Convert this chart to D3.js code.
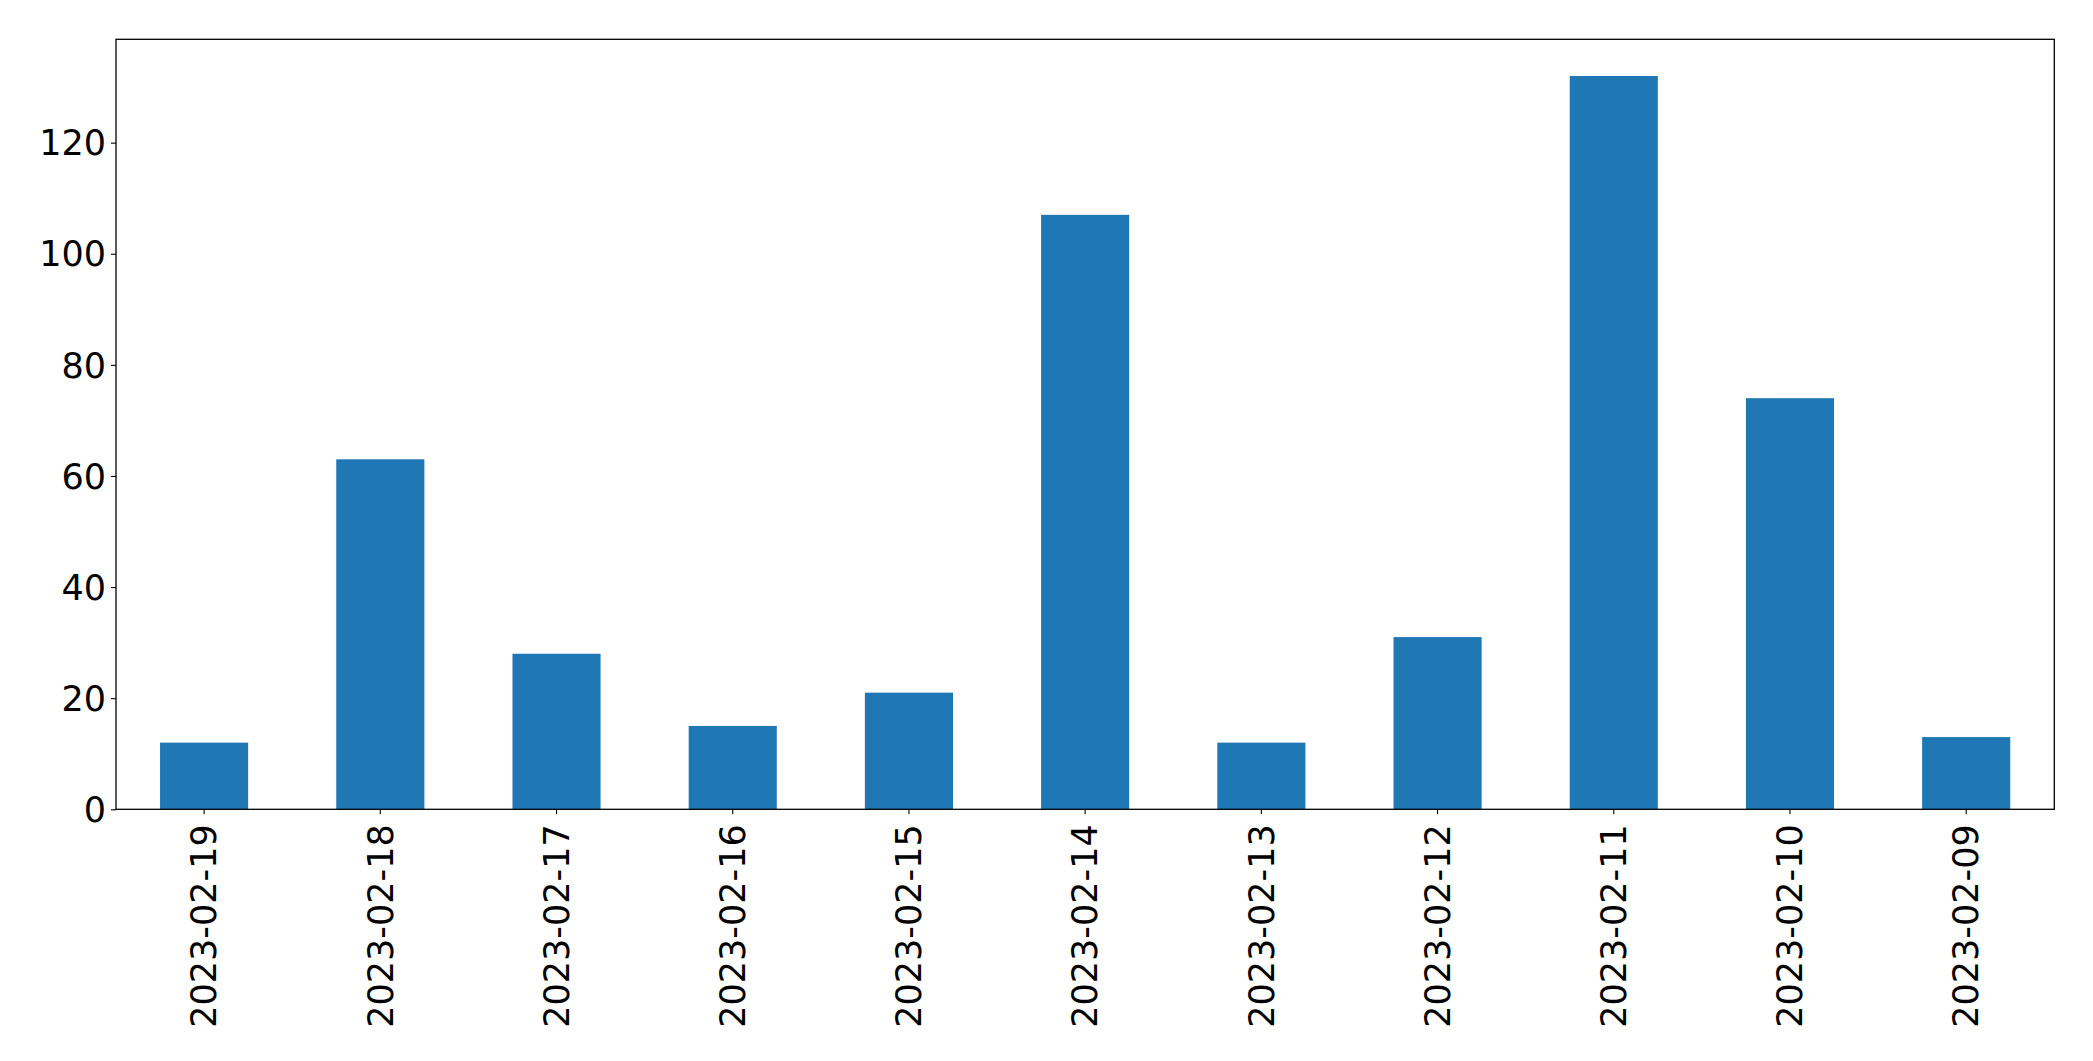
<!DOCTYPE html>
<html>
<head>
<meta charset="utf-8">
<script src="https://cdn.jsdelivr.net/npm/d3@7"></script>
<style>
  html, body { margin: 0; padding: 0; background: #fff; }
  svg { display: block; }
  text { font-family: "DejaVu Sans", sans-serif; fill: #000; }
</style>
</head>
<body>
<script>
const categories = ["2023-02-19","2023-02-18","2023-02-17","2023-02-16","2023-02-15","2023-02-14","2023-02-13","2023-02-12","2023-02-11","2023-02-10","2023-02-09"];
const values = [12, 63, 28, 15, 21, 107, 12, 31, 132, 74, 13];
const yTicks = [0, 20, 40, 60, 80, 100, 120];

const W = 2093, H = 1061;
const margin = { left: 116, top: 39.3, right: W - 2054.3, bottom: H - 809.3 };
const iw = W - margin.left - margin.right;
const ih = H - margin.top - margin.bottom;

const svg = d3.select("body").append("svg").attr("width", W).attr("height", H);
const g = svg.append("g").attr("transform", `translate(${margin.left},${margin.top})`);

const x = d3.scaleBand().domain(categories).range([0, iw]).paddingInner(0.5).paddingOuter(0.25);
const y = d3.scaleLinear().domain([0, d3.max(values) * 1.05]).range([ih, 0]);

g.selectAll("rect.bar").data(values).enter().append("rect")
  .attr("class", "bar")
  .attr("x", (d, i) => x(categories[i]))
  .attr("y", d => y(d))
  .attr("width", x.bandwidth())
  .attr("height", d => y(0) - y(d))
  .attr("fill", "#1f77b4");

const fs = 35;

const yAxis = g.append("g").call(d3.axisLeft(y).tickValues(yTicks).tickSize(5).tickPadding(5).tickFormat(d3.format("d")));
yAxis.select(".domain").remove();
yAxis.selectAll("line").attr("stroke", "#000").attr("stroke-width", 1.1);
yAxis.selectAll("text").attr("font-size", fs).attr("dy", "0.35em");

const xAxis = g.append("g").attr("transform", `translate(0,${ih})`)
  .call(d3.axisBottom(x).tickSize(5).tickPadding(0));
xAxis.select(".domain").remove();
xAxis.selectAll("line").attr("stroke", "#000").attr("stroke-width", 1.1);
xAxis.selectAll("text")
  .attr("font-size", fs)
  .attr("transform", "rotate(-90)")
  .attr("text-anchor", "end")
  .attr("x", -15)
  .attr("y", 0)
  .attr("dy", "0.35em");

g.append("rect").attr("x", 0).attr("y", 0).attr("width", iw).attr("height", ih)
  .attr("fill", "none").attr("stroke", "#000").attr("stroke-width", 1.3);
</script>
</body>
</html>
